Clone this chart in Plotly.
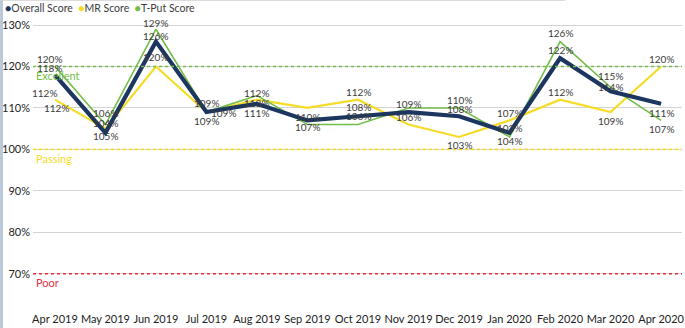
import plotly.graph_objects as go

months = ["Apr 2019", "May 2019", "Jun 2019", "Jul 2019", "Aug 2019", "Sep 2019",
          "Oct 2019", "Nov 2019", "Dec 2019", "Jan 2020", "Feb 2020", "Mar 2020", "Apr 2020"]

overall_score = [118, 104, 126, 109, 111, 107, 108, 109, 108, 104, 122, 114, 111]
mr_score = [112, 105, 120, 109, 112, 110, 112, 106, 103, 107, 112, 109, 120]
tput_score = [120, 106, 129, 109, 113, 106, 106, 110, 110, 103, 126, 115, 107]

thresholds = [("Excellent", 120), ("Passing", 100), ("Poor", 70)]
y_ticks = [70, 80, 90, 100, 110, 120, 130]

NAVY = "#1c365f"
YELLOW = "#f6dc25"
GREEN = "#74bd48"
RED = "#e3323e"
TEXT = "#3c3c3c"
FONT = "Lato"

# (dx, dy) pixel offsets of each value label, per point; empty list = no label
overall_lbl = [[(-5, 7)], [(0, 10)], [(0, 6)], [(0, -9)], [(0, -9)], [(0, -7)], [(0, 9)],
               [(0, 8)], [(0, 7)], [(0, -8)], [(0, 8)], [(0, 4)], [(0, -9)]]
mr_lbl = [[(-10, 7), (2, -8)], [(0, -7)], [(0, 9.5)], [(0, 9)], [(0, 7)], [(0, -9)], [(0, 8)],
          [(0, 7.5)], [(0, -8)], [(0, 7.5)], [(0, 8)], [(0, -9)], [(0, 7.5)]]
tput_lbl = [[(-5, 8)], [(0, 11.5)], [(0, 6)], [(17, -1)], [(0, -7.5)], [], [(0, 8.5)],
            [], [(0, 8)], [(0, 9)], [(0, 8.5)], [(0, 11)], [(0, -8.5)]]

series = [
    ("MR Score", mr_score, YELLOW, 2.2, mr_lbl),
    ("T-Put Score", tput_score, GREEN, 1.6, tput_lbl),
    ("Overall Score", overall_score, NAVY, 4.2, overall_lbl),
]

fig = go.Figure()
for name, vals, color, width, _ in series:
    fig.add_trace(go.Scatter(x=months, y=vals, mode="lines", name=name,
                             line=dict(color=color, width=width),
                             showlegend=False, hoverinfo="x+y+name"))

annotations = []
for name, vals, color, width, lbls in series:
    for m, v, offs in zip(months, vals, lbls):
        for dx, dy in offs:
            annotations.append(dict(x=m, y=v, text=f"{v}%", showarrow=False,
                                    xshift=dx, yshift=dy,
                                    font=dict(family=FONT, size=10, color=TEXT)))

shapes = []
thr_colors = {"Excellent": GREEN, "Passing": YELLOW, "Poor": RED}
for label, val in thresholds:
    c = thr_colors[label]
    shapes.append(dict(type="line", xref="paper", yref="y", x0=0, x1=1, y0=val, y1=val,
                       line=dict(color=c, width=1.6, dash="dot"), layer="above"))
    annotations.append(dict(xref="paper", x=0, xanchor="left", xshift=1, y=val, yshift=-9,
                            text=label, showarrow=False,
                            font=dict(family=FONT, size=11, color=c)))

# legend row
gap = "&nbsp;&nbsp;"
legend_html = (f"<span style='color:{NAVY}'>●</span>Overall Score{gap}"
               f"<span style='color:{YELLOW}'>●</span>MR Score{gap}"
               f"<span style='color:{GREEN}'>●</span>T-Put Score")
annotations.append(dict(xref="paper", yref="paper", x=-0.046, y=1.0, yshift=15,
                        xanchor="left", yanchor="middle", text=legend_html, showarrow=False,
                        font=dict(family=FONT, size=10.5, color=TEXT)))

# page frame edges
shapes.append(dict(type="line", xref="paper", yref="paper", x0=-0.0485, x1=-0.0485,
                   y0=-0.07, y1=1.09, line=dict(color="#b9c9d9", width=3)))
shapes.append(dict(type="line", xref="paper", yref="paper", x0=-0.05, x1=0.82,
                   y0=1.079, y1=1.079, line=dict(color="#cfcfcf", width=1)))

fig.update_layout(
    width=685, height=328,
    margin=dict(l=33, r=1, t=23, b=17),
    paper_bgcolor="white", plot_bgcolor="white",
    font=dict(family=FONT, size=11, color=TEXT),
    shapes=shapes, annotations=annotations,
    xaxis=dict(type="category", categoryorder="array", categoryarray=months,
               range=[-0.434, 12.414], showgrid=False, zeroline=False, showline=False,
               ticks="", tickfont=dict(family=FONT, size=11, color="#222")),
    yaxis=dict(range=[61, 130.5], tickvals=y_ticks, ticktext=[f"{t}%" for t in y_ticks],
               showgrid=True, gridcolor="#d4d4d4", gridwidth=1.2, zeroline=False,
               showline=False, ticks="", ticklabelstandoff=2,
               tickfont=dict(family=FONT, size=11, color="#222")),
)

fig.write_html("out.html")
